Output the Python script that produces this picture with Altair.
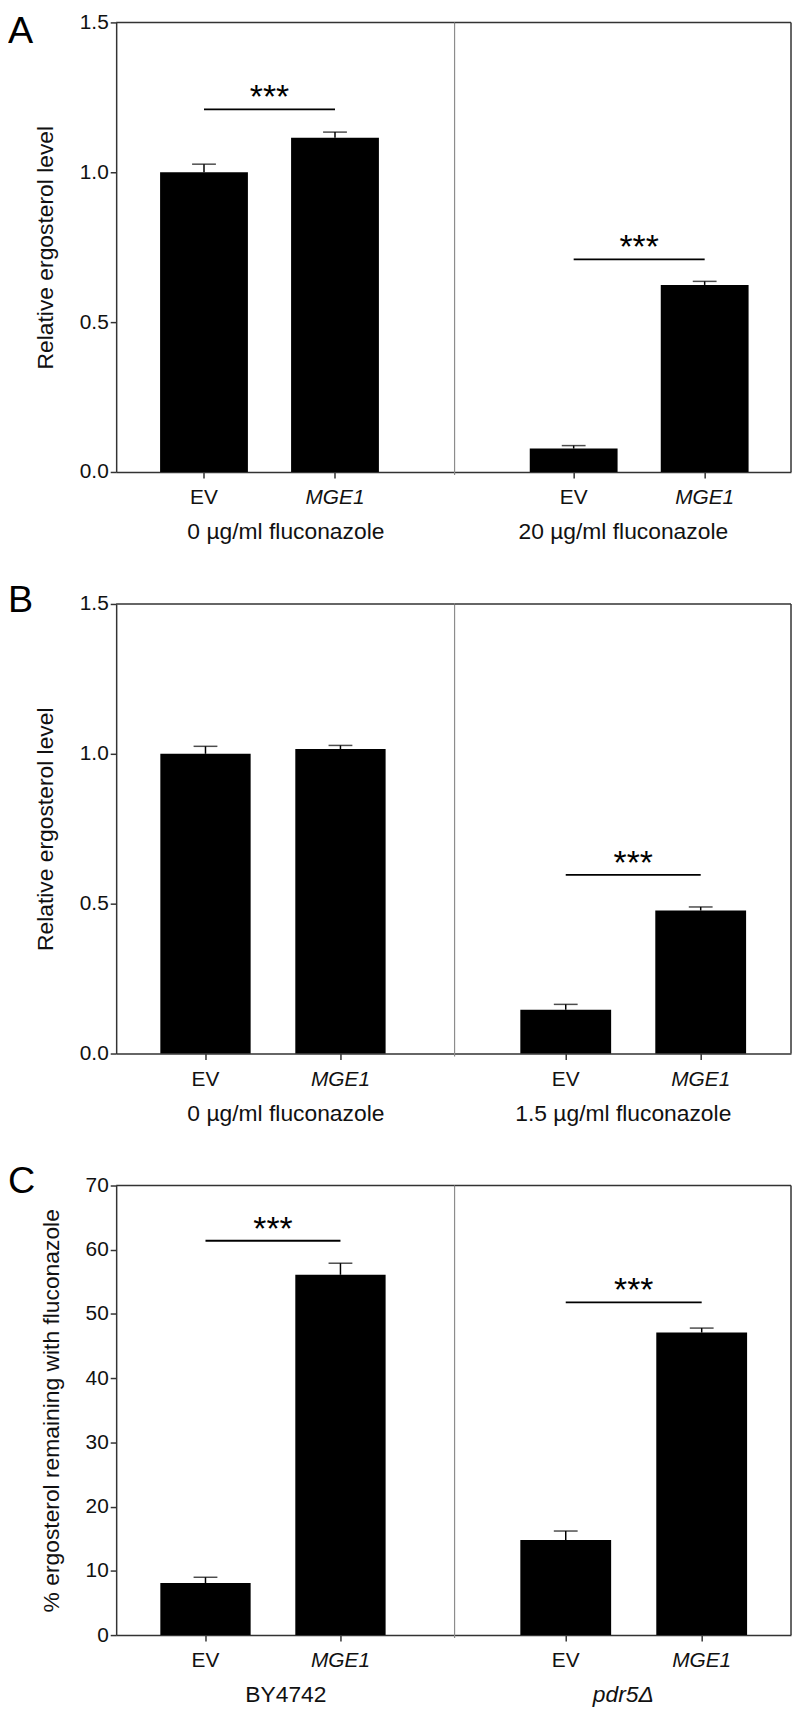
import altair as alt
import pandas as pd

FONT = "Liberation Sans"
INK = "#000000"
AXIS_INK = "#333333"
DIVIDER = "#8c8c8c"

strains = ["EV", "MGE1"]

# ---- Panel A ----
a_groups = ["0 µg/ml fluconazole", "20 µg/ml fluconazole"]
a_means = [[1.000, 1.115], [0.078, 0.624]]
a_errs = [[0.027, 0.019], [0.010, 0.012]]
a_sig = [1.21, 0.709]

# ---- Panel B ----
b_groups = ["0 µg/ml fluconazole", "1.5 µg/ml fluconazole"]
b_means = [[1.000, 1.016], [0.146, 0.477]]
b_errs = [[0.025, 0.012], [0.018, 0.012]]
b_sig = [None, 0.596]

# ---- Panel C ----
c_groups = ["BY4742", "pdr5Δ"]
c_means = [[8.1, 56.1], [14.8, 47.1]]
c_errs = [[0.9, 1.8], [1.4, 0.7]]
c_sig = [61.4, 51.8]

ratio_title = "Relative ergosterol level"
pct_title = "% ergosterol remaining with fluconazole"
ratio_ticks = [0.0, 0.5, 1.0, 1.5]
pct_ticks = [0, 10, 20, 30, 40, 50, 60, 70]
letters = ["A", "B", "C"]

H = 453
# layout of each half-panel: width, band step, bar width, first band centre
LAY = {
    "A": [dict(W=341, step=132, bw=88.5, c1=88.5), dict(W=339, step=132, bw=88.5, c1=120)],
    "B": [dict(W=341, step=136, bw=91, c1=90), dict(W=339, step=136, bw=91.5, c1=112)],
    "C": [dict(W=341, step=136, bw=91, c1=90), dict(W=339, step=137, bw=91.5, c1=112)],
}
# baseline offset of each panel letter below the top of its plot
LETTER_Y = {"A": 21, "B": 8, "C": 8}

label_style = {"condition": {"test": "datum.value == 'MGE1'", "value": "italic"}, "value": "normal"}


def half(group, means, errs, sig, ydom, yticks, yfmt, ytitle, lay, left, letter=None, letter_y=0,
         title_style="normal"):
    W, step, bw, c1 = lay["W"], lay["step"], lay["bw"], lay["c1"]
    p_in = 1 - bw / step
    L = W - step - bw
    p_out = L / (2 * step)
    al = (c1 - bw / 2) / L
    xscale = alt.Scale(domain=strains, paddingInner=p_in, paddingOuter=p_out, align=al)
    xaxis = alt.Axis(
        title=group, titleFontStyle=title_style, labelFontStyle=label_style,
        labelAngle=0, labelFontSize=21, labelPadding=9, tickSize=6, tickWidth=1.5,
        tickColor=AXIS_INK, domainColor=AXIS_INK, domainWidth=1.5,
        titleFontSize=23, titlePadding=13, titleFontWeight="normal", grid=False,
    )
    yscale = alt.Scale(domain=ydom, nice=False, zero=True)
    if left:
        yaxis = alt.Axis(
            values=yticks, format=yfmt, title=ytitle, labelFontSize=21, labelPadding=2,
            tickSize=6, tickWidth=1.5, tickColor=AXIS_INK, domainColor=AXIS_INK, domainWidth=1.5,
            titleFontSize=23, titlePadding=22, titleFontWeight="normal", grid=False,
        )
    else:
        yaxis = None

    def X(f):
        return alt.X(f"{f}:N", scale=xscale, axis=xaxis)

    def Y(f):
        return alt.Y(f"{f}:Q", scale=yscale, axis=yaxis)

    df = pd.DataFrame({
        "strain": strains,
        "mean": means,
        "upper": [m + e for m, e in zip(means, errs)],
    })
    base = alt.Chart(df)
    layers = [
        base.mark_bar(color=INK).encode(x=X("strain"), y=Y("mean")),
        base.mark_rule(color=INK, strokeWidth=1.5).encode(x=X("strain"), y=Y("mean"), y2="upper:Q"),
        base.mark_tick(color=INK, thickness=1.5, size=24, orient="horizontal").encode(x=X("strain"), y=Y("upper")),
    ]
    edge = pd.DataFrame({"v": [ydom[1]]})
    layers.append(alt.Chart(edge).mark_rule(color=AXIS_INK, strokeWidth=1.5).encode(y=Y("v")))
    if left:
        layers.append(alt.Chart(edge).mark_rule(color=DIVIDER, strokeWidth=1.2).encode(
            x=alt.value("width"), y=alt.value(0), y2=alt.value(H + 3)))
    else:
        layers.append(alt.Chart(edge).mark_rule(color=AXIS_INK, strokeWidth=1.5).encode(
            x=alt.value("width"), y=alt.value(0), y2=alt.value("height")))
    if sig is not None:
        sdf = pd.DataFrame({"a": ["EV"], "b": ["MGE1"], "y": [sig], "s": ["***"]})
        sc = alt.Chart(sdf)
        layers.append(sc.mark_rule(color=INK, strokeWidth=1.8).encode(x=X("a"), x2="b:N", y=Y("y")))
        layers.append(sc.mark_text(font=FONT, fontSize=34, baseline="alphabetic", align="center",
                                   dx=step / 2, dy=-1, color=INK).encode(x=X("a"), y=Y("y"), text="s:N"))
    if letter is not None:
        ldf = pd.DataFrame({"t": [letter]})
        layers.append(alt.Chart(ldf).mark_text(font=FONT, fontSize=38, align="left", baseline="alphabetic",
                                                color=INK).encode(text="t:N", x=alt.value(-109),
                                                                  y=alt.value(letter_y)))
    return alt.layer(*layers).properties(width=W, height=H)


def pair(key, groups, means, errs, sig, ydom, yticks, yfmt, ytitle, letter, title_styles=("normal", "normal")):
    l = half(groups[0], means[0], errs[0], sig[0], ydom, yticks, yfmt, ytitle, LAY[key][0], True,
             letter, LETTER_Y[key], title_styles[0])
    r = half(groups[1], means[1], errs[1], sig[1], ydom, yticks, yfmt, ytitle, LAY[key][1], False,
             None, 0, title_styles[1])
    return [l, r]


cells = (
    pair("A", a_groups, a_means, a_errs, a_sig, [0, 1.5], ratio_ticks, ".1f", ratio_title, letters[0])
    + pair("B", b_groups, b_means, b_errs, b_sig, [0, 1.5], ratio_ticks, ".1f", ratio_title, letters[1])
    + pair("C", c_groups, c_means, c_errs, c_sig, [0, 70], pct_ticks, "d", pct_title, letters[2],
           ("normal", "italic"))
)

chart = alt.concat(*cells, columns=2, spacing={"row": 133, "column": 0}, bounds="flush").properties(
    padding={"left": 0, "top": -3, "right": 0, "bottom": 0}
).configure_view(stroke=None).configure_axis(
    labelFont=FONT, titleFont=FONT, labelColor="#111111", titleColor="#111111"
).configure_text(font=FONT)

chart.save("out.html", embed_options={"renderer": "svg", "actions": False})
